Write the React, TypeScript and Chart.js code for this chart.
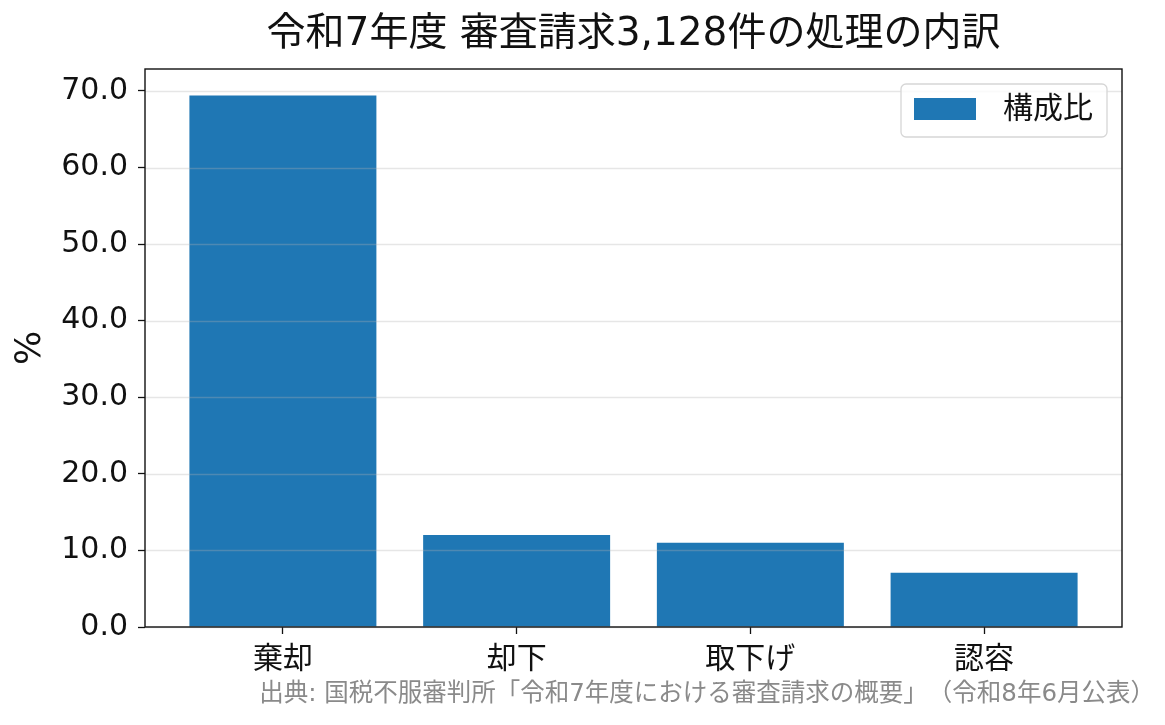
import { useEffect, useRef } from 'react';
import { Chart, registerables } from 'chart.js';
import type { Plugin } from 'chart.js';

Chart.register(...registerables);

const categories = ['棄却', '却下', '取下げ', '認容'];
const shares = [69.4, 12.0, 11.0, 7.1];
const yTicks = [0, 10, 20, 30, 40, 50, 60, 70];
const seriesLabel = '構成比';
const titleText = '令和7年度 審査請求3,128件の処理の内訳';
const sourceText = '出典: 国税不服審判所「令和7年度における審査請求の概要」（令和8年6月公表）';

// latin glyphs from DejaVu, kanji/kana fall back to Noto CJK
const FONT = '"DejaVu Sans", "Noto Sans CJK JP", sans-serif';
const BAR = '#1f77b4';
const INK = '#111111';

// grid lines sit above the bars, as in the original
const gridOverBars: Plugin<'bar'> = {
  id: 'gridOverBars',
  afterDatasetsDraw(chart) {
    const { ctx, chartArea } = chart;
    const y = chart.scales.y;
    ctx.save();
    ctx.strokeStyle = 'rgba(176,176,176,0.32)';
    ctx.lineWidth = 1.3;
    for (const v of yTicks) {
      const py = Math.round(y.getPixelForValue(v)) + 0.5;
      ctx.beginPath();
      ctx.moveTo(chartArea.left, py);
      ctx.lineTo(chartArea.right, py);
      ctx.stroke();
    }
    ctx.strokeStyle = INK;
    ctx.lineWidth = 1.4;
    ctx.strokeRect(chartArea.left, chartArea.top, chartArea.right - chartArea.left, chartArea.bottom - chartArea.top);
    ctx.restore();
  },
};

const legendBox: Plugin<'bar'> = {
  id: 'legendBox',
  afterDraw(chart) {
    const { ctx, chartArea } = chart;
    ctx.save();
    ctx.font = `30px ${FONT}`;
    const textW = ctx.measureText(seriesLabel).width;
    const boxW = 13 + 62 + 27 + textW + 14;
    const boxH = 53;
    const right = chartArea.right - 15;
    const top = chartArea.top + 15;
    const left = right - boxW;
    ctx.beginPath();
    ctx.roundRect(left, top, boxW, boxH, 5);
    ctx.fillStyle = 'rgba(255,255,255,0.8)';
    ctx.fill();
    ctx.strokeStyle = '#d6d6d6';
    ctx.lineWidth = 1.3;
    ctx.stroke();
    ctx.fillStyle = BAR;
    ctx.fillRect(left + 13, top + 14, 62, 22);
    ctx.fillStyle = INK;
    ctx.textAlign = 'left';
    ctx.textBaseline = 'middle';
    ctx.fillText(seriesLabel, left + 13 + 62 + 27, top + 26.5);
    ctx.restore();
  },
};

const sourceNote: Plugin<'bar'> = {
  id: 'sourceNote',
  afterDraw(chart) {
    const { ctx } = chart;
    ctx.save();
    ctx.font = `24.5px ${FONT}`;
    ctx.fillStyle = '#8a8a8a';
    ctx.textAlign = 'right';
    ctx.textBaseline = 'middle';
    ctx.fillText(sourceText, chart.width - 10, 695);
    ctx.restore();
  },
};

export default function App() {
  const canvasRef = useRef<HTMLCanvasElement | null>(null);

  useEffect(() => {
    document.body.style.margin = '0';
    if (!canvasRef.current) {
      return;
    }

    const chart = new Chart(canvasRef.current, {
      type: 'bar',
      data: {
        datasets: [
          {
            label: seriesLabel,
            data: shares.map((v, i) => ({ x: i, y: v })),
            backgroundColor: BAR,
            borderWidth: 0,
            categoryPercentage: 1,
            barPercentage: 0.8,
          },
        ],
      },
      options: {
        animation: false,
        responsive: true,
        maintainAspectRatio: false,
        layout: { padding: { left: 0, right: 43, top: 0, bottom: 0 } },
        plugins: {
          legend: { display: false },
          tooltip: { enabled: false },
          title: {
            display: true,
            text: titleText,
            fullSize: false,
            color: INK,
            font: { family: FONT, size: 39, weight: 'normal' },
            padding: { top: 11.6, bottom: 10.6 },
          },
        },
        scales: {
          x: {
            type: 'linear',
            min: -0.59,
            max: categories.length - 1 + 0.59,
            offset: false,
            border: { display: false },
            grid: {
              display: true,
              drawOnChartArea: false,
              drawTicks: true,
              tickLength: 7,
              tickColor: INK,
              tickWidth: 1.3,
              offset: false,
            },
            afterBuildTicks: (s) => {
              s.ticks = categories.map((_, i) => ({ value: i }));
            },
            afterFit: (s) => {
              s.height = 98;
            },
            ticks: {
              autoSkip: false,
              maxRotation: 0,
              padding: 8,
              color: INK,
              font: { family: FONT, size: 30 },
              callback: (v) => categories[Number(v)] ?? '',
            },
          },
          y: {
            type: 'linear',
            min: 0,
            max: Math.max(...shares) * 1.05,
            border: { display: false },
            grid: {
              display: true,
              drawOnChartArea: false,
              drawTicks: true,
              tickLength: 7,
              tickColor: INK,
              tickWidth: 1.3,
            },
            afterBuildTicks: (s) => {
              s.ticks = yTicks.map((v) => ({ value: v }));
            },
            afterFit: (s) => {
              s.width = 145;
            },
            ticks: {
              padding: 10,
              color: INK,
              font: { family: FONT, size: 30 },
              callback: (v) => Number(v).toFixed(1),
            },
            title: {
              display: true,
              text: '%',
              color: INK,
              font: { family: FONT, size: 36 },
              padding: { top: 9.5, bottom: 0 },
            },
          },
        },
      },
      plugins: [gridOverBars, legendBox, sourceNote],
    });

    return () => {
      chart.destroy();
    };
  }, []);

  return (
    <div style={{ position: 'relative', width: 1165, height: 725, background: '#fff' }}>
      <canvas ref={canvasRef} style={{ textSpacingTrim: 'space-all' } as React.CSSProperties} />
    </div>
  );
}
